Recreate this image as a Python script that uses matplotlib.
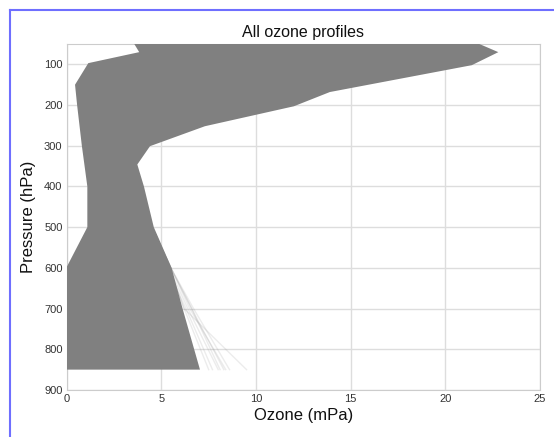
import matplotlib
matplotlib.use("Agg")
import matplotlib.pyplot as plt
from matplotlib.lines import Line2D

plt.rcParams['font.family'] = ['Liberation Sans', 'DejaVu Sans']

# Envelope of all profiles
# left edge: lowest ozone at each pressure
left_p = [50, 70, 97, 150, 200, 300, 400, 500, 598, 700, 850]
left_o = [3.57, 3.83, 1.14, 0.44, 0.55, 0.8, 1.09, 1.09, 0.0, 0.0, 0.0]
# right edge: highest ozone at each pressure
right_p = [50, 70, 102, 168, 203, 252, 301, 346, 400, 500, 600, 700, 850]
right_o = [21.8, 22.8, 21.4, 13.9, 12.0, 7.3, 4.4, 3.73, 4.08, 4.6, 5.54, 6.12, 7.04]

# a few single profiles sticking out near the ground
tail_p = [500, 600, 700, 850]
tails = [
    [4.5, 5.5, 6.7, 8.6],
    [4.5, 5.5, 6.6, 8.3],
    [4.4, 5.4, 6.2, 9.5],
    [4.5, 5.4, 6.4, 8.0],
    [4.4, 5.3, 6.3, 7.7],
    [4.5, 5.5, 6.5, 8.4],
    [4.4, 5.4, 6.2, 7.5],
    [4.5, 5.5, 6.6, 8.1],
]
# faint ones on the left near 600 hPa
left_tail_p = [540, 580, 620, 660]
left_tails = [
    [0.9, 0.45, 0.2, 0.0],
    [1.0, 0.6, 0.3, 0.1],
]

fig = plt.figure(figsize=(5.54, 4.37), dpi=100)
ax = fig.add_axes([0.1204, 0.1076, 0.8543, 0.7917])

poly_o = left_o + right_o[::-1]
poly_p = left_p + right_p[::-1]
ax.fill(poly_o, poly_p, color='#808080', lw=0, zorder=3)

for t in tails:
    ax.plot(t, tail_p, color='#808080', alpha=0.15, lw=1, zorder=3)
for t in left_tails:
    ax.plot(t, left_tail_p, color='#808080', alpha=0.15, lw=1, zorder=3)

ax.set_xlim(0, 25)
ax.set_ylim(900, 50)
ax.set_xticks([0, 5, 10, 15, 20, 25])
ax.set_yticks(range(100, 1000, 100))
ax.grid(True, color='#dddddd', lw=1, zorder=0)
ax.set_axisbelow(True)
for s in ax.spines.values():
    s.set_color('#cccccc')
ax.tick_params(length=0, labelsize=8, labelcolor='#333333', pad=3)

ax.set_title('All ozone profiles', fontsize=11.5, color='#111111', pad=5)
ax.set_xlabel('Ozone (mPa)', fontsize=12, color='#111111', labelpad=3)
ax.set_ylabel('Pressure (hPa)', fontsize=12, color='#111111', labelpad=6)

# blue frame along the left and top
W, H = 554, 437
fig.add_artist(Line2D([9.5 / W, 9.5 / W], [0, 1 - 10 / H], color='#6f6fff', lw=1.5))
fig.add_artist(Line2D([9.5 / W, 1], [1 - 10 / H, 1 - 10 / H], color='#6f6fff', lw=1.5))

fig.savefig('out.png', dpi=100)
